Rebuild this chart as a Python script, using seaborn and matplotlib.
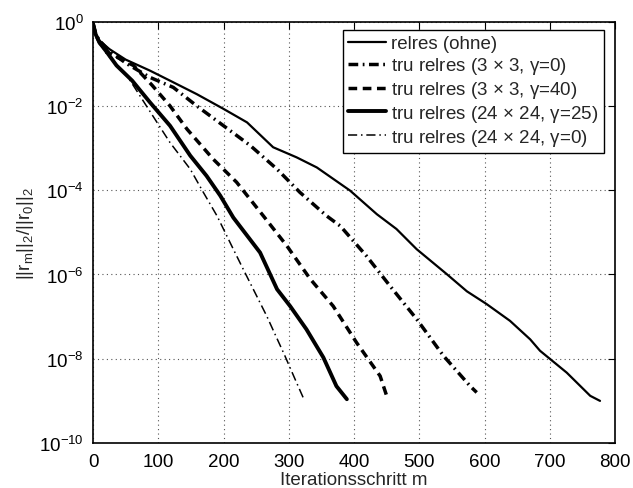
import numpy as np
import pandas as pd
import matplotlib
matplotlib.use("Agg")
import matplotlib.pyplot as plt
import seaborn as sns
from matplotlib.ticker import FixedLocator, NullLocator, LogFormatterSciNotation

# ---- data (y given as log10 of the residual) ----
relres_x = [0, 4, 10, 25, 50, 87, 118, 159, 200, 236, 276, 312, 343, 394, 435, 465,
            496, 542, 573, 603, 639, 670, 685, 726, 762, 777]
relres_log = [-0.05, -0.3, -0.45, -0.65, -0.9, -1.16, -1.40, -1.72, -2.07, -2.39, -2.98,
              -3.22, -3.46, -4.01, -4.57, -4.92, -5.40, -5.99, -6.40, -6.70, -7.10, -7.54,
              -7.81, -8.33, -8.88, -9.00]

tru33g0_x = [0, 4, 10, 25, 52, 87, 123, 159, 200, 241, 282, 317, 358, 379, 419, 455,
             496, 537, 578, 588]
tru33g0_log = [-0.05, -0.3, -0.45, -0.7, -1.0, -1.32, -1.56, -2.0, -2.47, -2.94, -3.5,
               -4.05, -4.61, -4.85, -5.56, -6.27, -7.06, -7.93, -8.65, -8.80]

tru33g40_x = [0, 4, 10, 25, 62, 90, 118, 144, 184, 220, 261, 297, 333, 368, 404, 440, 450]
tru33g40_log = [-0.05, -0.3, -0.5, -0.75, -1.04, -1.5, -2.0, -2.55, -3.26, -3.81, -4.61,
                -5.32, -6.11, -6.75, -7.62, -8.41, -8.88]

tru24g25_x = [0, 4, 10, 20, 36, 60, 87, 118, 149, 174, 195, 215, 256, 282, 302, 327,
              353, 373, 389]
tru24g25_log = [-0.05, -0.3, -0.5, -0.7, -1.04, -1.4, -1.91, -2.47, -3.18, -3.66, -4.13,
                -4.65, -5.48, -6.35, -6.75, -7.30, -7.97, -8.65, -8.96]

tru24g0_x = [0, 4, 10, 20, 52, 98, 118, 149, 169, 190, 215, 230, 266, 294, 312, 322]
tru24g0_log = [-0.05, -0.3, -0.5, -0.75, -1.28, -2.39, -2.87, -3.5, -4.05, -4.61, -5.40,
               -5.87, -6.98, -7.93, -8.57, -8.92]

labels = ["relres (ohne)",
          r"tru relres (3 $\times$ 3, $\gamma$=0)",
          r"tru relres (3 $\times$ 3, $\gamma$=40)",
          r"tru relres (24 $\times$ 24, $\gamma$=25)",
          r"tru relres (24 $\times$ 24, $\gamma$=0)"]

xticks = [0, 100, 200, 300, 400, 500, 600, 700, 800]
yticks = [1e0, 1e-2, 1e-4, 1e-6, 1e-8, 1e-10]

# ---- style ----
sns.set_style("white")
plt.rcParams["font.family"] = ["Liberation Sans", "DejaVu Sans"]
plt.rcParams["mathtext.default"] = "regular"
plt.rcParams["mathtext.fontset"] = "custom"
plt.rcParams["mathtext.rm"] = "Liberation Sans"
plt.rcParams["mathtext.it"] = "Liberation Sans:italic"

fig = plt.figure(figsize=(6.33, 4.89), dpi=100)
ax = fig.add_axes([0.147, 0.092, 0.8246, 0.8616])

series = [
    (relres_x, relres_log, 1.6, "-"),
    (tru33g0_x, tru33g0_log, 2.5, (0, (2.8, 1.3, 0.5, 1.3))),
    (tru33g40_x, tru33g40_log, 2.5, (0, (2.5, 1.6))),
    (tru24g25_x, tru24g25_log, 2.8, "-"),
    (tru24g0_x, tru24g0_log, 1.1, (0, (6, 2.5, 1, 2.5))),
]

for (xs, ls_, lw, style), lab in zip(series, labels):
    df = pd.DataFrame({"m": xs, "res": np.power(10.0, ls_)})
    sns.lineplot(data=df, x="m", y="res", ax=ax, color="black", linewidth=lw,
                 linestyle=style, label=lab, sort=False, estimator=None)

ax.set_yscale("log")
ax.set_xlim(0, 800)
ax.set_ylim(1e-10, 1e0)
ax.xaxis.set_major_locator(FixedLocator(xticks))
ax.yaxis.set_major_locator(FixedLocator(yticks))
ax.yaxis.set_minor_locator(NullLocator())
ax.yaxis.set_major_formatter(LogFormatterSciNotation())
ax.grid(True, which="major", color="#555555", linestyle=(0, (1, 3)), linewidth=0.8)
ax.tick_params(direction="in", top=True, right=True, length=5, width=0.8,
               labelsize=13.5, colors="black", pad=7)
for sp in ax.spines.values():
    sp.set_color("black")
    sp.set_linewidth(1.2)

ax.set_xlabel("Iterationsschritt m", fontsize=13.5, labelpad=1)
ax.set_ylabel(r"$||r_m||_2/||r_0||_2$", fontsize=13.5, labelpad=2)

leg = ax.legend(loc="upper right", bbox_to_anchor=(0.979, 0.981), fontsize=13.5,
                frameon=True, fancybox=False, edgecolor="black", framealpha=1,
                handlelength=2.0, handletextpad=0.28, borderpad=0.3,
                labelspacing=0.15, borderaxespad=0.0)
leg.get_frame().set_linewidth(1.0)

fig.savefig("out.png", dpi=100)
